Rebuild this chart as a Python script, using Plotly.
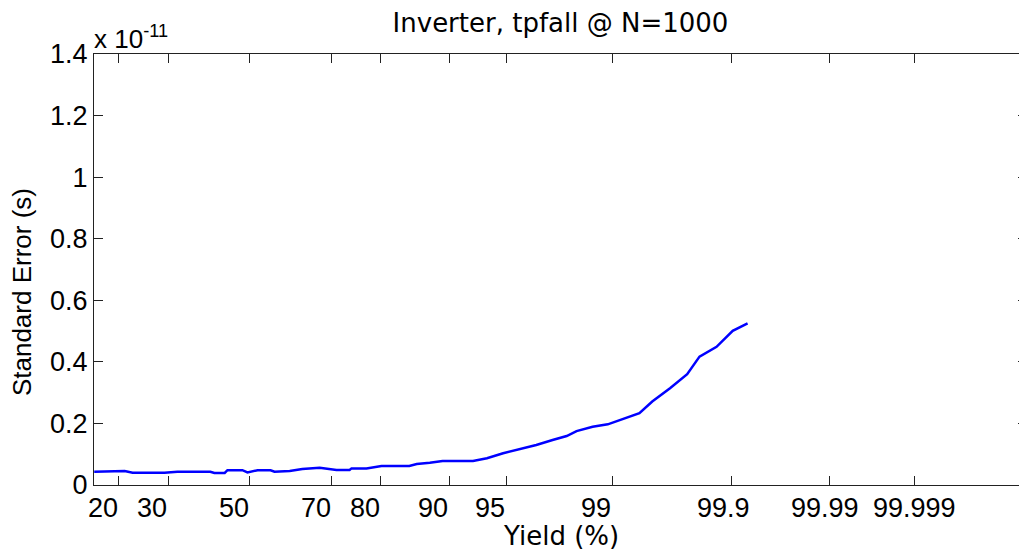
from statistics import NormalDist
import plotly.graph_objects as go

# ---- data ----
yield_pct = [15.9, 18.6, 21.1, 22.6, 29.2, 32.1, 40.0, 41.0, 43.6, 44.3, 48.1,
             49.4, 52.0, 55.3, 56.3, 60.1, 63.2, 67.3, 71.1, 73.9, 74.3, 77.3,
             80.1, 84.7, 85.8, 87.6, 89.2, 92.4, 93.0, 93.6, 94.8, 95.8, 96.7,
             97.4, 97.9, 98.2, 98.61, 98.92, 99.12, 99.38, 99.51, 99.65, 99.75,
             99.805, 99.863, 99.903, 99.930]
std_err_e11 = [0.043, 0.044, 0.0455, 0.040, 0.040, 0.043, 0.043, 0.039, 0.039,
               0.048, 0.048, 0.041, 0.048, 0.048, 0.043, 0.0455, 0.052, 0.056,
               0.049, 0.049, 0.054, 0.054, 0.062, 0.062, 0.068, 0.072, 0.078,
               0.078, 0.0835, 0.087, 0.103, 0.116, 0.130, 0.146, 0.159, 0.175,
               0.189, 0.197, 0.211, 0.233, 0.271, 0.314, 0.360, 0.417, 0.449,
               0.501, 0.525]
x_tick_labels = ["20", "30", "50", "70", "80", "90", "95", "99", "99.9", "99.99", "99.999"]
y_tick_vals = [0, 0.2, 0.4, 0.6, 0.8, 1.0, 1.2, 1.4]

nd = NormalDist()
def probit(p_pct):
    return nd.inv_cdf(p_pct / 100.0)

x = [probit(v) for v in yield_pct]
x_tick_vals = [probit(float(t)) for t in x_tick_labels]

FONT = "Liberation Sans, Arial, Helvetica, sans-serif"
FONT_W = "DejaVu Sans, Liberation Sans, sans-serif"
AX = "#222222"
XR = [-1.0, 4.988]
YR = [0, 1.4]
LABEL_LEN = max(len(t) for t in x_tick_labels)   # MATLAB pads labels to equal length
PAD_PX = 4                                        # half width of one padding space

fig = go.Figure()
fig.add_trace(go.Scatter(x=x, y=std_err_e11, mode="lines",
                         line=dict(color="#0000FF", width=2.5), showlegend=False))
# invisible trace to activate the right-side tick axis
fig.add_trace(go.Scatter(x=[None], y=[None], yaxis="y2", showlegend=False))

# x tick labels placed like MATLAB's padded char-matrix labels
tick_annotations = [
    dict(text=t, xref="x", yref="paper", x=v, y=0, xanchor="center", yanchor="top",
         showarrow=False, xshift=-(LABEL_LEN - len(t)) * PAD_PX, yshift=-6,
         font=dict(family=FONT, size=27, color="black"))
    for t, v in zip(x_tick_labels, x_tick_vals)
]

fig.update_layout(
    width=1019, height=542,
    margin=dict(l=86, r=0, t=46, b=65),
    paper_bgcolor="white", plot_bgcolor="white",
    font=dict(family=FONT, size=27, color="black"),
    title=dict(text="Inverter, tpfall @ N=1000", xref="paper", x=0.5, xanchor="center",
               yref="container", y=0.99, yanchor="top",
               font=dict(family=FONT_W, size=26, color="black")),
    xaxis=dict(range=XR, tickmode="array", tickvals=x_tick_vals, showticklabels=False,
               ticks="inside", ticklen=9, tickcolor=AX, tickwidth=1,
               showline=True, linecolor=AX, linewidth=1, mirror="ticks",
               showgrid=False, zeroline=False),
    yaxis=dict(range=YR, tickmode="array", tickvals=y_tick_vals,
               ticks="inside", ticklen=9, tickcolor=AX, tickwidth=1,
               showline=True, linecolor=AX, linewidth=1, mirror=False,
               showgrid=False, zeroline=False,
               tickfont=dict(family=FONT, size=27, color="black")),
    yaxis2=dict(range=YR, overlaying="y", side="right", tickmode="array",
                tickvals=y_tick_vals, ticks="inside", ticklen=9, tickcolor=AX,
                showticklabels=False, showline=False, showgrid=False, zeroline=False),
    annotations=tick_annotations + [
        dict(text="x 10<sup>-11</sup>", xref="paper", yref="paper",
             x=0, y=1, xanchor="left", yanchor="bottom", showarrow=False,
             xshift=-2, yshift=-2,
             font=dict(family=FONT, size=26, color="black")),
        dict(text="Yield (%)", xref="paper", yref="paper",
             x=0.5, y=0, xanchor="center", yanchor="top", showarrow=False,
             yshift=-34, font=dict(family=FONT_W, size=26, color="black")),
        dict(text="Standard Error (s)", xref="paper", yref="paper",
             x=-0.0770, y=0.448, xanchor="center", yanchor="middle", showarrow=False,
             textangle=-90, font=dict(family=FONT, size=26, color="black")),
    ],
)

fig.write_html("out.html")
